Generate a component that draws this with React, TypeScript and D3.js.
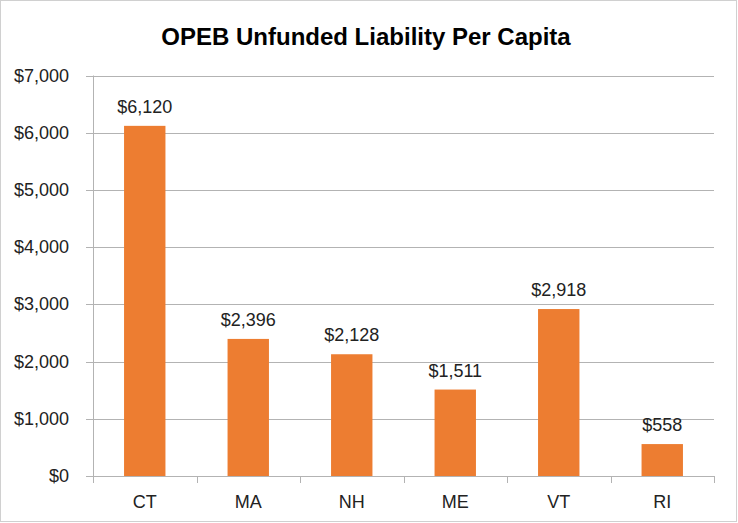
import React from "react";
import * as d3 from "d3";

const categories = ["CT", "MA", "NH", "ME", "VT", "RI"];
const values = [6120, 2396, 2128, 1511, 2918, 558];
const yTicks = [0, 1000, 2000, 3000, 4000, 5000, 6000, 7000];
const title = "OPEB Unfunded Liability Per Capita";

const W = 738;
const H = 523;
const left = 93;
const right = 714;
const top = 75.5;
const bottom = 476;
const font = "'Liberation Sans', Arial, sans-serif";
const gridColor = "#b3b3b3";
const barColor = "#ED7D31";

export default function App() {
  const x = d3
    .scaleBand<string>()
    .domain(categories)
    .range([left, right])
    .paddingInner(0.6)
    .paddingOuter(0.3);
  const y = d3.scaleLinear().domain([0, 7000]).range([bottom, top]);
  const fmt = (v: number) => "$" + d3.format(",")(v);
  const step = x.step();
  const boundaries = d3.range(categories.length + 1).map((i) => left + i * step);

  return (
    <svg
      width={W}
      height={H}
      style={{ position: "absolute", left: 0, top: 0, background: "#fff" }}
    >
      <rect x={0.5} y={0.5} width={W - 2} height={H - 2} fill="#fff" stroke="#d0d0d0" />
      <text
        x={366}
        y={45}
        textAnchor="middle"
        fontFamily={font}
        fontWeight="bold"
        fontSize={24}
        fill="#000"
      >
        {title}
      </text>
      {yTicks.map((t) => (
        <g key={t}>
          <line
            x1={left - 7}
            x2={right}
            y1={Math.round(y(t)) + 0.5}
            y2={Math.round(y(t)) + 0.5}
            stroke={gridColor}
            strokeWidth={1}
          />
          <text
            x={69}
            y={y(t) + 6}
            textAnchor="end"
            fontFamily={font}
            fontSize={18}
            fill="#222"
          >
            {fmt(t)}
          </text>
        </g>
      ))}
      <line x1={left + 0.5} x2={left + 0.5} y1={top} y2={bottom} stroke={gridColor} />
      {boundaries.map((b, i) => (
        <line
          key={i}
          x1={Math.round(b) + 0.5}
          x2={Math.round(b) + 0.5}
          y1={bottom}
          y2={bottom + 7}
          stroke={gridColor}
        />
      ))}
      {categories.map((c, i) => (
        <g key={c}>
          <rect
            x={x(c)!}
            y={y(values[i])}
            width={x.bandwidth()}
            height={bottom - y(values[i])}
            fill={barColor}
          />
          <text
            x={x(c)! + x.bandwidth() / 2}
            y={y(values[i]) - 13}
            textAnchor="middle"
            fontFamily={font}
            fontSize={18}
            fill="#222"
          >
            {fmt(values[i])}
          </text>
          <text
            x={x(c)! + x.bandwidth() / 2}
            y={508}
            textAnchor="middle"
            fontFamily={font}
            fontSize={18}
            fill="#222"
          >
            {c}
          </text>
        </g>
      ))}
    </svg>
  );
}
